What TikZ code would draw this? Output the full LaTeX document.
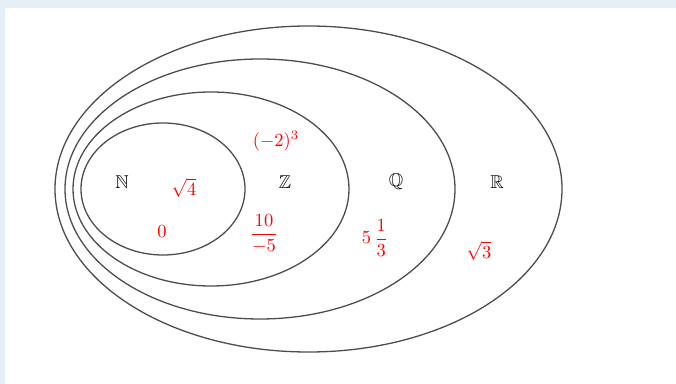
\documentclass[tikz,border=0pt]{standalone}
\usepackage{amsmath,amssymb}
\definecolor{frameblue}{HTML}{E6EEF6}
\definecolor{setline}{HTML}{4D4D4D}
\begin{document}
\begin{tikzpicture}[x=0.54pt,y=-0.54pt,
  setring/.style={draw=setline,line width=0.7pt},
  setname/.style={text=black,inner sep=1pt},
  elem/.style={text=red,inner sep=1pt}]
\fill[frameblue] (0,0) rectangle (676,384);
\fill[white] (5,8) rectangle (676,384);
\useasboundingbox (0,0) rectangle (676,384);
\draw[setring] (308.5,189) ellipse [x radius=253.5, y radius=163];
\draw[setring] (260,189) ellipse [x radius=195, y radius=130];
\draw[setring] (211,189) ellipse [x radius=138, y radius=97];
\draw[setring] (163,189) ellipse [x radius=82, y radius=66];
\node[setname] (n) at (122,182) {$\mathbb{N}$};
\node[setname] (z) at (285,182) {$\mathbb{Z}$};
\node[setname] (q) at (396,182) {$\mathbb{Q}$};
\node[setname] (r) at (497,182) {$\mathbb{R}$};
\node[elem] (sq4) at (184,188) {$\sqrt{4}$};
\node[elem] (zero) at (162,232) {$0$};
\node[elem] (cube) at (276,141) {$(-2)^3$};
\node[elem] (frac) at (264,234) {$\dfrac{10}{-5}$};
\node[elem] (mixed) at (375,238) {$5\,\dfrac{1}{3}$};
\node[elem] (sq3) at (479,251) {$\sqrt{3}$};
\end{tikzpicture}
\end{document}
